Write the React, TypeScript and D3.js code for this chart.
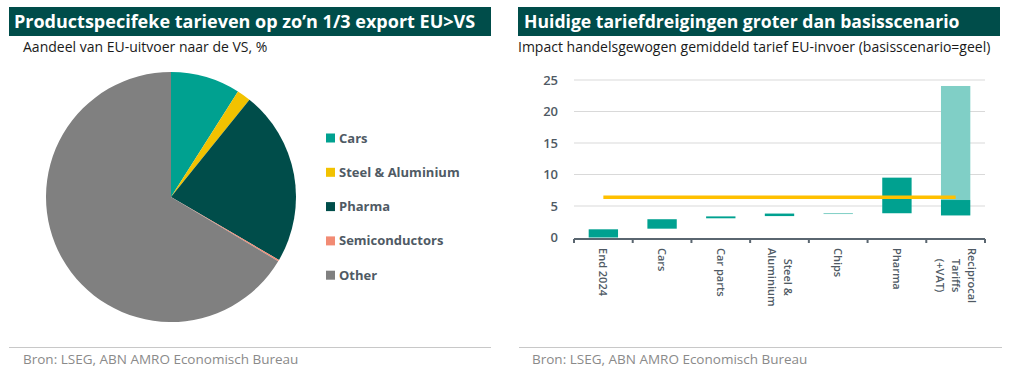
import React from "react";
import * as d3 from "d3";

const pieLabels = ["Cars", "Steel & Aluminium", "Pharma", "Semiconductors", "Other"];
const pieValues = [9.0, 1.8, 22.6, 0.2, 66.4];
const pieColors = ["#00A190", "#F2C200", "#004D4A", "#F28B74", "#808080"];

const barCategories = ["End 2024", "Cars", "Car parts", "Steel &\nAluminium", "Chips", "Pharma", "Reciprocal\nTariffs\n(+VAT)"];
const barLow = [0, 1.4, 3.05, 3.4, 3.8, 3.85, 3.5];
const barHigh = [1.3, 2.9, 3.35, 3.8, 3.88, 9.5, 5.95];
const extraLow = [null, null, null, null, null, null, 5.95];
const extraHigh = [null, null, null, null, null, null, 24.05];
const barIsLight = [false, false, false, false, true, false, false];
const baseline = 6.4;
const yTicks = [0, 5, 10, 15, 20, 25];

const TEAL = "#00A190";
const LIGHT = "#80CFC6";
const DARK = "#004D4A";
const TXT = "#4F5A64";
const FONT = "'Open Sans', sans-serif";

function measure(text: string, font: string): number {
  if (typeof document === "undefined") return text.length * 6;
  const c = document.createElement("canvas").getContext("2d");
  if (!c) return text.length * 6;
  c.font = font;
  return c.measureText(text).width;
}

export default function App() {
  const cx = 171, cy = 197, r = 125;
  const pie = d3.pie<number>().sort(null).value((d) => d)(pieValues);
  const arc = d3.arc<d3.PieArcDatum<number>>().innerRadius(0).outerRadius(r);

  const x = d3.scaleBand<string>().domain(barCategories).range([574, 985]).paddingInner(0.5).paddingOuter(0.25);
  const xb = d3.scaleBand<string>().domain(barCategories).range([574, 985]);
  const y = d3.scaleLinear().domain([0, 25]).range([237.5, 80]);

  const labelFont = `600 11px ${FONT}`;

  return (
    <svg width={1010} height={377} style={{ position: "absolute", left: 0, top: 0, background: "#fff" }} fontFamily={FONT}>
      {/* Left panel header */}
      <rect x={9} y={7} width={482} height={29} fill={DARK} />
      <text x={14} y={28} fill="#fff" fontSize={18} fontWeight={700}>Productspecifeke tarieven op zo’n 1/3 export EU&gt;VS</text>
      <text x={23} y={52} fill="#1a1a1a" fontSize={14}>Aandeel van EU-uitvoer naar de VS, %</text>

      <g transform={`translate(${cx},${cy})`}>
        {pie.map((p, i) => (
          <path key={i} d={arc(p) || ""} fill={pieColors[i]} />
        ))}
      </g>

      {pieLabels.map((l, i) => (
        <g key={l} transform={`translate(326,${138 + i * 34.3})`}>
          <rect x={0} y={-4.5} width={9} height={9} fill={pieColors[i]} />
          <text x={13} y={0} dy="0.35em" fill={TXT} fontSize={13} fontWeight={700}>{l}</text>
        </g>
      ))}

      <line x1={9} x2={491} y1={347.5} y2={347.5} stroke="#c8c8c8" strokeWidth={1} />
      <text x={23} y={364} fill="#8a8a8a" fontSize={13.5}>Bron: LSEG, ABN AMRO Economisch Bureau</text>

      {/* Right panel header */}
      <rect x={518} y={7} width={482} height={29} fill={DARK} />
      <text x={524} y={28} fill="#fff" fontSize={17.6} fontWeight={700}>Huidige tariefdreigingen groter dan basisscenario</text>
      <text x={518} y={52} fill="#1a1a1a" fontSize={14}>Impact handelsgewogen gemiddeld tarief EU-invoer (basisscenario=geel)</text>

      {yTicks.map((t) => (
        <g key={t}>
          {t > 0 && <line x1={574} x2={985} y1={y(t)} y2={y(t)} stroke="#d9d9d9" strokeWidth={1} />}
          <text x={558} y={y(t)} dy="0.35em" textAnchor="end" fill={TXT} fontSize={13} fontWeight={600}>{t}</text>
        </g>
      ))}

      {barCategories.map((c, i) => (
        <g key={c}>
          <rect x={x(c)} width={x.bandwidth()} y={y(barHigh[i])} height={Math.max(1, y(barLow[i]) - y(barHigh[i]))} fill={barIsLight[i] ? LIGHT : TEAL} />
          {extraLow[i] != null && extraHigh[i] != null && (
            <rect x={x(c)} width={x.bandwidth()} y={y(extraHigh[i] as number)} height={y(extraLow[i] as number) - y(extraHigh[i] as number)} fill={LIGHT} />
          )}
        </g>
      ))}

      <line
        x1={(xb(barCategories[0]) as number) + xb.bandwidth() / 2}
        x2={(xb(barCategories[barCategories.length - 1]) as number) + xb.bandwidth() / 2}
        y1={y(baseline)} y2={y(baseline)} stroke="#FFC000" strokeWidth={3.5} />

      <line x1={574} x2={985} y1={239} y2={239} stroke="#5A6670" strokeWidth={2} />
      {[...barCategories.map((c) => xb(c) as number), 985].map((t, i) => (
        <line key={i} x1={t} x2={t} y1={239} y2={243} stroke="#5A6670" strokeWidth={2} />
      ))}

      {barCategories.map((c) => {
        const lines = c.split("\n");
        const maxLen = Math.max(...lines.map((l) => measure(l, labelFont)));
        const center = (xb(c) as number) + xb.bandwidth() / 2;
        const lh = 16;
        return (
          <g key={c} transform={`translate(${center},248) rotate(90)`}>
            {lines.map((l, j) => (
              <text key={j} x={maxLen / 2} y={(j - (lines.length - 1) / 2) * lh} dy="0.35em" textAnchor="middle" fill={TXT} fontSize={11} fontWeight={600}>{l}</text>
            ))}
          </g>
        );
      })}

      <line x1={519} x2={1002} y1={347.5} y2={347.5} stroke="#c8c8c8" strokeWidth={1} />
      <text x={532} y={364} fill="#8a8a8a" fontSize={13.5}>Bron: LSEG, ABN AMRO Economisch Bureau</text>
    </svg>
  );
}
